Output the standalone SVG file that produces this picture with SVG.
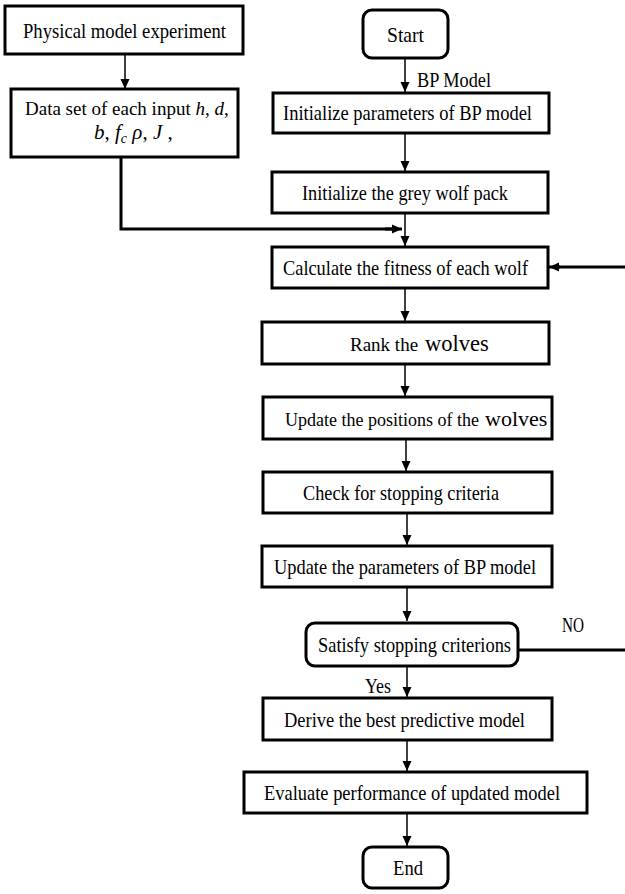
<svg xmlns="http://www.w3.org/2000/svg" width="625" height="894" viewBox="0 0 625 894">
<defs>
<marker id="ah" markerUnits="userSpaceOnUse" markerWidth="10" markerHeight="10" refX="10" refY="5" orient="auto">
<path d="M0,0.5 L10,5 L0,9.5 z" fill="#000"/>
</marker>
<style>
.box{fill:#fff;stroke:#000;stroke-width:3}
.t{font-family:'Liberation Serif','Times New Roman',serif;font-size:21px;fill:#000}
.i{font-style:italic}
.c{fill:none;stroke:#000;stroke-width:1.5;marker-end:url(#ah)}
.k{fill:none;stroke:#000;stroke-width:3}
</style>
</defs>
<rect width="625" height="894" fill="#fff"/>
<g id="connectors">
<path class="c" d="M125,53 V89"/>
<path class="c" d="M405,58 V92"/>
<path class="c" d="M405,132 V171"/>
<path class="c" d="M405,212 V246"/>
<path class="k" d="M121,157 V229 H395"/>
<path class="c" d="M385,229 H402" style="stroke-width:3"/>
<path class="k" d="M625,267 H556"/>
<path class="c" d="M560,267 H549" style="stroke-width:3"/>
<path class="c" d="M405,288 V321"/>
<path class="c" d="M405,364 V396"/>
<path class="c" d="M406,439 V471"/>
<path class="c" d="M407,513 V545"/>
<path class="c" d="M407,587 V621"/>
<path class="c" d="M407,666 V697"/>
<path class="c" d="M407,740 V771"/>
<path class="c" d="M407,813 V846"/>
<path class="k" d="M518,650 H625"/>
<text class="t" x="417" y="87" textLength="74" lengthAdjust="spacingAndGlyphs">BP Model</text>
<text class="t" x="562" y="632" textLength="22" lengthAdjust="spacingAndGlyphs">NO</text>
<text class="t" x="365" y="693" textLength="26" lengthAdjust="spacingAndGlyphs">Yes</text>
</g>
<g id="n_physical">
<rect class="box" x="5" y="6" width="238" height="48"/>
<text class="t" x="23" y="38" textLength="203" lengthAdjust="spacingAndGlyphs">Physical model experiment</text>
</g>
<g id="n_data">
<rect class="box" x="11" y="89" width="227" height="68"/>
<text class="t" x="25" y="115" style="font-size:19px">Data set of each input <tspan class="i">h</tspan>, <tspan class="i">d</tspan>,</text>
<text class="t" x="94" y="139"><tspan class="i">b</tspan>, <tspan class="i">f</tspan><tspan class="i" style="font-size:14px" dy="4">c</tspan><tspan dy="-4">  </tspan><tspan class="i">ρ</tspan>, <tspan class="i">J</tspan> ,</text>
</g>
<g id="n_start">
<rect class="box" x="363" y="10" width="85" height="48" rx="9"/>
<text class="t" x="387" y="42" textLength="37" lengthAdjust="spacingAndGlyphs">Start</text>
</g>
<g id="n_initbp">
<rect class="box" x="273" y="93" width="276" height="40"/>
<text class="t" x="283" y="120" textLength="249" lengthAdjust="spacingAndGlyphs">Initialize parameters of BP model</text>
</g>
<g id="n_initwolf">
<rect class="box" x="272" y="172" width="276" height="41"/>
<text class="t" x="302" y="200" textLength="206" lengthAdjust="spacingAndGlyphs">Initialize the grey wolf pack</text>
</g>
<g id="n_fitness">
<rect class="box" x="272" y="247" width="276" height="41"/>
<text class="t" x="283" y="275" textLength="245" lengthAdjust="spacingAndGlyphs">Calculate the fitness of each wolf</text>
</g>
<g id="n_rank">
<rect class="box" x="262" y="322" width="287" height="42"/>
<text class="t" x="350" y="351" style="font-size:19px">Rank the</text>
<text class="t" x="425" y="351" style="font-size:22.5px">wolves</text>
</g>
<g id="n_update">
<rect class="box" x="263" y="397" width="289" height="42"/>
<text class="t" x="285" y="426" style="font-size:18px">Update the positions of the</text>
<text class="t" x="485" y="426" style="font-size:22px">wolves</text>
</g>
<g id="n_check">
<rect class="box" x="263" y="472" width="289" height="41"/>
<text class="t" x="303" y="500" textLength="196" lengthAdjust="spacingAndGlyphs">Check for stopping criteria</text>
</g>
<g id="n_updbp">
<rect class="box" x="262" y="546" width="290" height="41"/>
<text class="t" x="274" y="574" textLength="262" lengthAdjust="spacingAndGlyphs">Update the parameters of BP model</text>
</g>
<g id="n_satisfy">
<rect class="box" x="306" y="623" width="212" height="43" rx="9"/>
<text class="t" x="318" y="652" textLength="193" lengthAdjust="spacingAndGlyphs">Satisfy stopping criterions</text>
</g>
<g id="n_derive">
<rect class="box" x="263" y="698" width="289" height="42"/>
<text class="t" x="284" y="727" textLength="241" lengthAdjust="spacingAndGlyphs">Derive the best predictive model</text>
</g>
<g id="n_evaluate">
<rect class="box" x="244" y="772" width="343" height="41"/>
<text class="t" x="264" y="800" textLength="296" lengthAdjust="spacingAndGlyphs">Evaluate performance of updated model</text>
</g>
<g id="n_end">
<rect class="box" x="363" y="847" width="85" height="41" rx="9"/>
<text class="t" x="393" y="875" textLength="30" lengthAdjust="spacingAndGlyphs">End</text>
</g>
</svg>
